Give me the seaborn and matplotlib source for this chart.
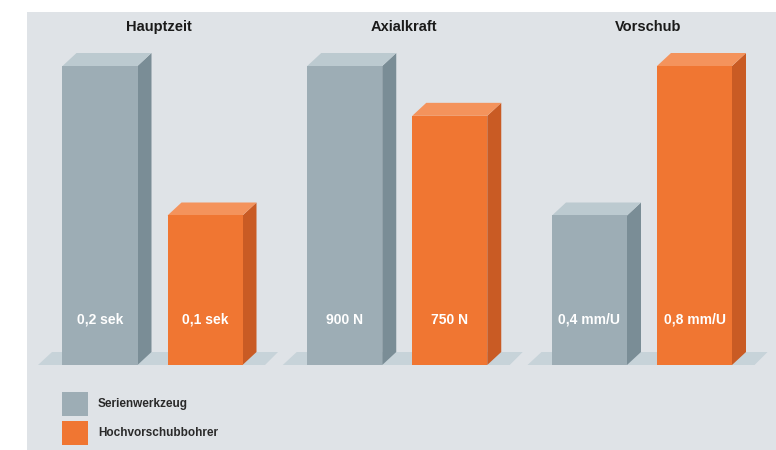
import matplotlib
matplotlib.use("Agg")
import matplotlib.pyplot as plt
import seaborn as sns
import pandas as pd
from matplotlib.patches import Polygon, Rectangle
from matplotlib.transforms import IdentityTransform

# ---- data ----
panels = ["Hauptzeit", "Axialkraft", "Vorschub"]
series = ["Serienwerkzeug", "Hochvorschubbohrer"]
hauptzeit = [0.2, 0.1]
axialkraft = [900, 750]
vorschub = [0.4, 0.8]
hauptzeit_labels = ["0,2 sek", "0,1 sek"]
axialkraft_labels = ["900 N", "750 N"]
vorschub_labels = ["0,4 mm/U", "0,8 mm/U"]

values = [hauptzeit, axialkraft, vorschub]
labels = [hauptzeit_labels, axialkraft_labels, vorschub_labels]

# ---- style ----
W, H, DPI = 776, 450, 100
BG = "#dfe3e7"
FLOOR = "#c7d3d9"
FRONT = ["#9dadb5", "#f07632"]
SIDE = ["#7a8d96", "#c95b24"]
TOP = ["#bccad0", "#f4935c"]
DX, DY = 14, 13

sns.set_theme(style="white")
plt.rcParams["font.family"] = ["Liberation Sans Narrow", "Liberation Sans", "DejaVu Sans"]

fig = plt.figure(figsize=(W / DPI, H / DPI), dpi=DPI)
fig.patch.set_facecolor("white")
fig.patches.append(Rectangle((27 / W, 0), 1 - 27 / W, 1 - 12 / H,
                             transform=fig.transFigure, facecolor=BG,
                             edgecolor="none", zorder=-5))

unit = 105.0  # px between category centers
for i, (name, vals, labs) in enumerate(zip(panels, values, labels)):
    off = i * 244.75
    left_px, right_px = 38 + off, 265 + off
    bottom_px, top_px = 365, 40
    ax = fig.add_axes([left_px / W, 1 - bottom_px / H,
                       (right_px - left_px) / W, (bottom_px - top_px) / H])
    ax.set_facecolor("none")
    ax.set_zorder(1)
    df = pd.DataFrame({"series": series, "value": vals})
    sns.barplot(data=df, x="series", y="value", hue="series",
                palette=FRONT, saturation=1, width=75 / unit,
                legend=False, ax=ax, zorder=3, linewidth=0, edgecolor="none")
    ax.set_xlim(-(62 / unit), 1 + 60 / unit)
    ax.set_ylim(0, max(vals) * (bottom_px - top_px) / 299.0)
    ax.set_axis_off()

    bars = [q for q in ax.patches if isinstance(q, Rectangle)]

    # floor parallelogram
    bb = ax.get_position()
    L, R, B = bb.x0 * W, bb.x1 * W, bb.y0 * H
    ax.add_patch(Polygon([(L, B), (R, B), (R + DX - 1, B + DY), (L + DX, B + DY)],
                         closed=True, transform=IdentityTransform(),
                         facecolor=FLOOR, edgecolor="none", zorder=1,
                         clip_on=False))

    # 3D faces for each bar
    for k, p in enumerate(bars):
        x0, w, h = p.get_x(), p.get_width(), p.get_height()
        (dx0, dy0), (dx1, dy1) = ax.transData.transform([(x0, 0), (x0 + w, h)])
        side = [(dx1, dy0), (dx1 + DX, dy0 + DY), (dx1 + DX, dy1 + DY), (dx1, dy1)]
        top = [(dx0, dy1), (dx1, dy1), (dx1 + DX, dy1 + DY), (dx0 + DX, dy1 + DY)]
        ax.add_patch(Polygon(side, closed=True, transform=IdentityTransform(),
                             facecolor=SIDE[k], edgecolor="none", zorder=2.5,
                             clip_on=False))
        ax.add_patch(Polygon(top, closed=True, transform=IdentityTransform(),
                             facecolor=TOP[k], edgecolor="none", zorder=2.5,
                             clip_on=False))

    for j, lab in enumerate(labs):
        ax.annotate(lab, xy=(j, 0), xytext=(0, 45), textcoords="offset pixels",
                    ha="center", va="center", color="white", fontsize=10,
                    fontweight="bold", zorder=5)

    fig.text((159 + off) / W, 1 - 27 / H, name, ha="center", va="center",
             fontsize=10.5, fontweight="bold", color="#1a1a1a")

# legend
for k, (s, yc) in enumerate(zip(series, [404, 433])):
    fig.patches.append(Rectangle((62 / W, 1 - (yc + 12) / H), 26 / W, 24 / H,
                                 transform=fig.transFigure, facecolor=FRONT[k],
                                 edgecolor="none", zorder=2))
    fig.text(98 / W, 1 - yc / H, s, ha="left", va="center", fontsize=8.5,
             fontweight="bold", color="#2a2a2a")

fig.savefig("out.png", dpi=DPI, facecolor="white")
